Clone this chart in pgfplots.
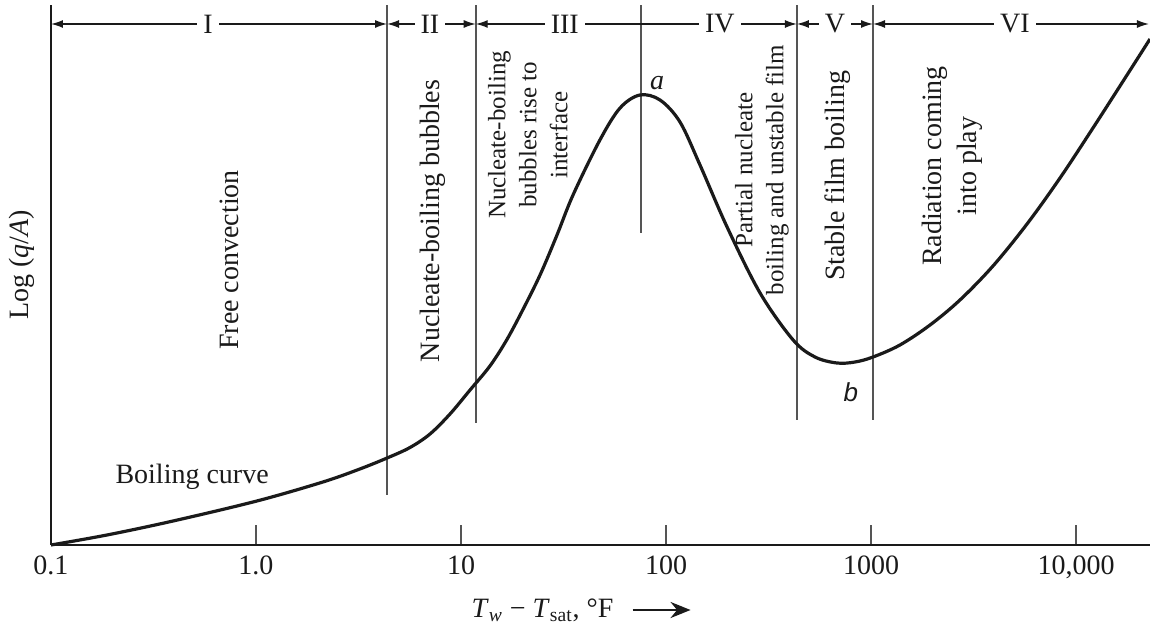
\documentclass[border=0pt]{standalone}
\usepackage{fontspec}
\setmainfont{Liberation Serif}
\newfontfamily\sansfont{Liberation Sans}
\usepackage{pgfplots}
\usepackage{pgfplotstable}
\pgfplotsset{compat=1.18}
\usetikzlibrary{arrows.meta}
\definecolor{ink}{HTML}{1A1A1A}
\definecolor{rule}{HTML}{555555}

% Boiling curve: x = T_w - T_sat (degF), y = log(q/A) in arbitrary units
\pgfplotstableread{
x y
0.1 0
0.1875 10
0.394 24
1.01 44
2.12 63
3.21 76
4.36 87
5.64 97.5
7.06 111
8.84 131
11.07 155
13.84 179
16.7 205
20.0 235
24.3 270
29.4 310
35.2 350
47.6 405
59.7 437
74.6 450
93.5 445
117 423
146.5 380
198.6 318
287.7 252
417 205
533 188
682 182
836 183
1023 188
1384 200
1941 220
2716 245
3936 279
5768 321
8356 367
12100 417
17740 470
22960 506
}\boilingcurve

\newcommand\bigtxt{\fontsize{14}{17.5}\selectfont}
\newcommand\midtxt{\fontsize{12.5}{15.5}\selectfont}

\begin{document}
\begin{tikzpicture}
\begin{axis}[
  xmode=log,
  xmin=0.1, xmax=22960, ymin=0, ymax=540,
  scale only axis, width=549.5pt, height=270pt,
  axis x line*=bottom, axis y line*=left,
  axis line style={-, draw=ink, line width=1pt},
  xtick={0.1,1,10,100,1000,10000},
  xticklabels={0.1,1.0,10,100,1000,{10,000}},
  xminorticks=false,
  ytick=\empty,
  xtick pos=bottom,
  tick align=inside,
  major tick length=10pt,
  x tick style={draw=rule, line width=0.7pt},
  xticklabel style={font=\bigtxt, text=ink, yshift=-2pt},
  clip=false,
]
\coordinate (BL) at (axis cs:0.1,0);

% region dividers
\addplot[rule, line width=0.8pt] coordinates {(4.36,50) (4.36,540)};
\addplot[rule, line width=0.8pt] coordinates {(11.8,122) (11.8,540)};
\addplot[rule, line width=0.8pt] coordinates {(75.5,312) (75.5,540)};
\addplot[rule, line width=0.8pt] coordinates {(435,125) (435,540)};
\addplot[rule, line width=0.8pt] coordinates {(1023,125) (1023,540)};

% boiling curve
\addplot[ink, line width=1.6pt, smooth, tension=0.55] table {\boilingcurve};

% regime arrows
\tikzset{regime/.style={draw=ink, line width=0.7pt,
  {Latex[length=6pt,width=4pt]}-{Latex[length=6pt,width=4pt]}}}
\draw[regime] (axis cs:0.1,521) -- (axis cs:4.36,521);
\draw[regime] (axis cs:4.36,521) -- (axis cs:11.8,521);
\draw[regime] (axis cs:11.8,521) -- (axis cs:435,521);
\draw[regime] (axis cs:435,521) -- (axis cs:1023,521);
\draw[regime] (axis cs:1023,521) -- (axis cs:22700,521);
\tikzset{num/.style={fill=white, inner xsep=3pt, inner ysep=1pt, font=\bigtxt, text=ink}}
\node[num] at (axis cs:0.583,521) {I};
\node[num] at (axis cs:7.06,521) {II};
\node[num] at (axis cs:32.1,521) {III};
\node[num] at (axis cs:183,521) {IV};
\node[num] at (axis cs:667,521) {V};
\node[num] at (axis cs:5035,521) {VI};

% regime descriptions
\node[rotate=90, font=\bigtxt, text=ink] at (axis cs:0.738,285) {Free convection};
\node[rotate=90, font=\bigtxt, text=ink] at (axis cs:7.29,324) {Nucleate-boiling bubbles};
\node[rotate=90, font=\midtxt, text=ink, align=center] at (axis cs:21.2,410)
  {Nucleate-boiling\\bubbles rise to\\interface};
\node[rotate=90, font=\midtxt, text=ink, align=center] at (axis cs:293.6,375)
  {Partial nucleate\\boiling and unstable film};
\node[rotate=90, font=\bigtxt, text=ink] at (axis cs:690,369) {Stable film boiling};
\node[rotate=90, font=\bigtxt, text=ink, align=center] at (axis cs:2485,379)
  {Radiation coming\\into play};
\node[font=\bigtxt, text=ink] at (axis cs:0.488,68) {Boiling curve};

% points a and b
\node[font=\bigtxt\itshape, text=ink] at (axis cs:90.4,462) {a};
\node[font=\fontsize{13}{15}\sansfont\itshape, text=ink] at (axis cs:798,153) {b};

% axis titles
\node[rotate=90, font=\bigtxt, text=ink] at ([xshift=-14.5pt]axis cs:0.1,280) {Log (\textit{q}/\textit{A})};
\node[font=\bigtxt, text=ink] (xl) at (axis cs:25,-65)
  {\textit{T}\textsubscript{\textit{w}} − \textit{T}\textsubscript{sat}, °F};
\end{axis}
\draw[ink, line width=1.4pt, -{Stealth[length=10pt,width=8pt]}] ([xshift=6pt]xl.east) -- ++(29pt,0);
\pgfresetboundingbox
\path[use as bounding box] ([shift={(-25.5pt,-43pt)}]BL) rectangle ([shift={(549.5pt,272.5pt)}]BL);
\end{tikzpicture}
\end{document}
